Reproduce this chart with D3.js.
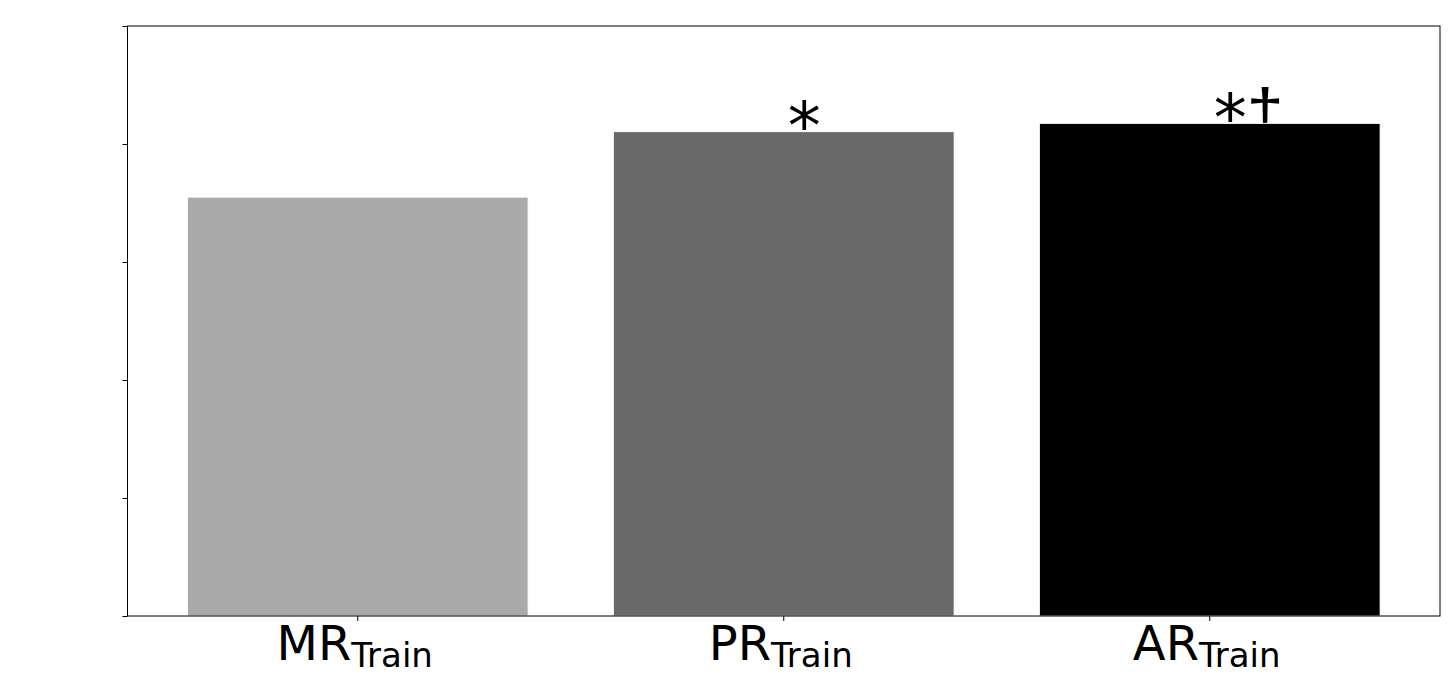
<!DOCTYPE html>
<html>
<head>
<meta charset="utf-8">
<style>
body { margin: 0; background: #fff; }
svg { display: block; font-family: "DejaVu Sans", sans-serif; }
</style>
</head>
<body>
<svg width="1450" height="681"></svg>
<script src="https://d3js.org/d3.v7.min.js"></script>
<script>
// bar data
var groups = ["MR", "PR", "AR"];
var subs = ["Train", "Train", "Train"];
var values = [0.71, 0.821, 0.835];
var stars = ["", "*", "*"];
var daggers = ["", "", "\u2020"];
var colors = ["#a9a9a9", "#696969", "#000000"];
var yTicks = [0, 0.2, 0.4, 0.6, 0.8, 1.0];

var svg = d3.select("svg");
// plot area edges (note: "top" is reserved on window, so use other names)
var pLeft = 127.5, pRight = 1440, pTop = 26, pBottom = 616;

var x = d3.scaleBand()
    .domain(groups)
    .range([pLeft, pRight])
    .paddingInner(0.2)
    .paddingOuter(0.1405);

var y = d3.scaleLinear()
    .domain([0, 1])
    .range([pBottom, pTop]);

// significance marks (drawn before bars so the bars cover the lower part)
var markSize = 66;
var mk = svg.append("g").selectAll("text")
    .data(groups)
  .enter().append("text")
    .attr("x", function(d) { return x(d) + x.bandwidth() / 2 + 4; })
    .attr("y", function(d, i) { return y(values[i]) + 0.27 * markSize; })
    .attr("font-size", markSize)
    .attr("text-anchor", "start")
    .attr("fill", "#000");
mk.append("tspan").text(function(d, i) { return stars[i]; });
mk.append("tspan")
    .attr("font-family", "Liberation Sans")
    .attr("dx", 0)
    .attr("dy", -6)
    .text(function(d, i) { return daggers[i]; });

// bars
svg.append("g").selectAll("rect")
    .data(groups)
  .enter().append("rect")
    .attr("x", function(d) { return x(d); })
    .attr("y", function(d, i) { return y(values[i]); })
    .attr("width", x.bandwidth())
    .attr("height", function(d, i) { return y(0) - y(values[i]); })
    .attr("fill", function(d, i) { return colors[i]; })
    .attr("stroke", "#fff")
    .attr("stroke-width", 1);

// y axis: ticks only, no labels
svg.append("g")
    .attr("transform", "translate(" + pLeft + ",0)")
    .call(d3.axisLeft(y).tickValues(yTicks).tickSize(5).tickFormat(""))
    .call(function(g) { g.select(".domain").remove(); })
    .selectAll("line").attr("stroke", "#000").attr("stroke-width", 1);

// x axis with subscripted labels
var xa = svg.append("g")
    .attr("transform", "translate(0," + pBottom + ")")
    .call(d3.axisBottom(x).tickSize(5).tickFormat(""));
xa.select(".domain").remove();
xa.selectAll("line").attr("stroke", "#000");

var lab = svg.append("g").selectAll("text")
    .data(groups)
  .enter().append("text")
    .attr("x", function(d) { return x(d) + x.bandwidth() / 2 - 3; })
    .attr("y", 660)
    .attr("text-anchor", "middle")
    .attr("font-size", 48)
    .attr("fill", "#000");
lab.append("tspan").text(function(d) { return d; });
lab.append("tspan")
    .attr("font-size", 34)
    .attr("dy", 7)
    .text(function(d, i) { return subs[i]; });

// frame
svg.append("rect")
    .attr("x", pLeft)
    .attr("y", pTop)
    .attr("width", pRight - pLeft)
    .attr("height", pBottom - pTop)
    .attr("fill", "none")
    .attr("stroke", "#000")
    .attr("stroke-width", 1);
</script>
</body>
</html>
